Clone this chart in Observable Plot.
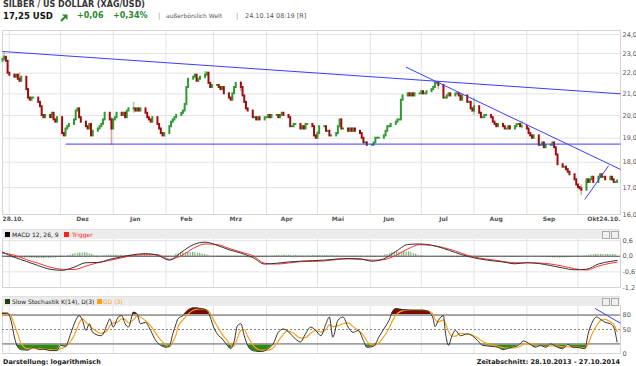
<!DOCTYPE html>
<html><head><meta charset="utf-8">
<script src="https://cdn.jsdelivr.net/npm/d3@7"></script>
<script src="https://cdn.jsdelivr.net/npm/@observablehq/plot@0.6"></script>
<style>
body{margin:0;background:#fff;font-family:"DejaVu Sans",Verdana,sans-serif;}
#wrap{position:relative;width:636px;height:366px;overflow:hidden;background:#fff;}
.abs{position:absolute;white-space:nowrap;line-height:10px;}
.band{position:absolute;left:2px;width:618px;height:9px;background:#ececec;border-top:1px solid #e0e0e0;}
.band span{position:absolute;top:0;font-size:6px;line-height:9px;}
.sq{position:absolute;top:2px;width:5px;height:5px;}
.ic{position:absolute;top:1px;width:6px;height:6px;border:1px solid #aaa;background:#f0f0f0;}
</style></head><body>
<svg width="0" height="0" style="position:absolute"><defs>
<pattern id="hstripes" patternUnits="userSpaceOnUse" width="2.4" height="10"><rect width="1.1" height="10" fill="#6fa86f"/></pattern>
</defs></svg>
<div id="wrap"></div>
<script>
// ---------------- DATA ----------------
// daily closes, 52 weeks x 5 trading days (28.10.2013 - 24.10.2014)
const closes = [
 22.7,22.8,22.6,22.0,21.9,  21.8,21.9,21.7,21.6,21.8,  21.2,20.8,20.7,20.8,20.8,  20.6,20.4,20.0,19.9,20.0,
 19.9,20.1,19.8,19.7,19.9,  19.2,19.1,19.4,19.5,19.6,  19.8,20.2,20.3,19.9,19.7,  19.5,19.4,19.6,19.1,19.3,
 19.4,19.5,19.6,19.8,20.1,  19.8,19.4,19.8,19.9,20.1,  20.0,20.1,19.9,20.2,20.3,  20.3,20.2,20.3,20.2,20.3,
 20.1,19.9,19.8,19.7,19.9,  19.6,19.4,19.2,19.1,19.2,  19.5,19.7,19.8,19.9,20.0,  20.1,20.2,20.5,21.3,21.7,
 21.8,21.9,21.6,21.7,21.8,  21.9,22.0,21.5,21.3,21.4,  21.4,21.3,21.2,21.3,21.0,  20.8,20.7,21.0,21.3,21.5,
 21.3,20.9,20.6,20.3,20.2,  19.9,19.9,19.8,19.9,19.8,  19.9,19.9,20.0,19.9,20.0,  20.0,19.9,20.0,20.1,20.0,
 19.9,19.5,19.5,19.6,19.6,  19.4,19.5,19.4,19.6,19.6,  19.5,19.1,19.0,19.2,19.5,  19.5,19.3,19.3,19.1,19.1,
 19.2,19.5,19.8,19.4,19.4,  19.3,19.4,19.3,19.4,19.3,  19.2,19.0,18.8,18.8,18.7,  18.7,18.8,19.0,19.0,19.0,
 19.1,19.3,19.5,19.5,19.6,  19.7,19.8,19.8,20.7,20.9,  21.0,20.9,21.0,20.9,21.0,  21.0,21.1,21.0,21.0,21.1,
 21.2,21.3,21.5,21.5,21.4,  20.8,20.8,20.9,21.0,20.9,  21.0,21.0,20.9,20.7,20.9,  20.6,20.6,20.3,20.2,20.4,
 20.1,19.9,19.9,20.0,20.0,  19.9,19.7,19.6,19.5,19.6,  19.5,19.4,19.4,19.5,19.4,  19.5,19.6,19.6,19.5,19.5,
 19.4,19.2,19.1,19.0,19.1,  18.7,18.7,18.8,18.6,18.7,  18.7,18.8,18.6,18.3,17.9,  17.8,17.8,17.7,17.6,17.5,
 17.3,17.1,17.0,16.95,16.9, 17.3,17.2,17.3,17.4,17.2,  17.4,17.5,17.4,17.4,17.3,  17.4,17.3,17.2,17.2,17.25
];
const firstOpen = 22.6;
// notable shadows: trading-day index, low, high
const wickIdx  = [1, 8, 46, 55, 85, 100, 133, 184, 199, 219, 244];
const wickLow  = [22.6, 21.6, 18.7, 20.1, 21.7, 21.1, 19.0, 21.2, 20.0, 19.4, 16.7];
const wickHigh = [23.05, 22.0, 19.9, 20.6, 22.1, 21.6, 19.3, 21.6, 20.8, 19.75, 17.1];

const priceTicks = [16,17,18,19,20,21,22,23,24];
const monthLabels = ["Dez","Jan","Feb","Mrz","Apr","Mai","Jun","Jul","Aug","Sep","Okt"];
const monthLabelDates = ["2013-12-14","2014-01-14","2014-02-13","2014-03-14","2014-04-13","2014-05-13","2014-06-12","2014-07-14","2014-08-14","2014-09-14","2014-10-10"];
const startLabel = "28.10.", endLabel = "24.10.";

// trend lines (start date, start price, end date, end price)
const trendStart = ["2013-10-28","2013-12-04","2014-06-22","2014-10-05"];
const trendStartPrice = [23.1, 18.75, 22.3, 16.55];
const trendEnd = ["2014-10-26","2014-10-26","2014-10-26","2014-10-19"];
const trendEndPrice = [21.0, 18.75, 17.71, 17.86];

// MACD, weekly (Mondays from 28.10.2013) + 24.10.2014
const macdValues = [0.16,-0.04,-0.2,-0.36,-0.5,-0.54,-0.42,-0.25,-0.24,-0.12,-0.02,0.06,0.1,0.04,-0.15,0.15,0.44,0.54,0.42,0.25,0.12,-0.05,-0.3,-0.27,-0.22,-0.19,-0.17,-0.15,-0.11,-0.09,-0.1,-0.19,-0.1,0.18,0.45,0.47,0.42,0.3,0.14,0.0,-0.1,-0.17,-0.22,-0.29,-0.25,-0.28,-0.36,-0.45,-0.52,-0.5,-0.3,-0.2,-0.16];
const triggerValues = [0.12,0.04,-0.13,-0.27,-0.42,-0.5,-0.51,-0.38,-0.25,-0.16,-0.06,0.03,0.06,0.06,-0.12,0.02,0.3,0.47,0.45,0.3,0.16,0.02,-0.27,-0.3,-0.26,-0.21,-0.2,-0.18,-0.13,-0.1,-0.12,-0.15,-0.13,0.03,0.28,0.44,0.42,0.33,0.2,0.04,-0.07,-0.13,-0.2,-0.25,-0.25,-0.26,-0.3,-0.38,-0.48,-0.53,-0.38,-0.27,-0.23];
const macdTicks = [0.6, 0, -0.6, -1.2];

// Slow stochastic: calendar-day offsets from 28.10.2013
const stochDays = [0,3,5,7,9,11,15,18,22,24,28,32,34,37,40,43,45,47,49,51,53,58,62,63,65,68,70,72,74,77,79,81,84,87,90,93,96,98,100,102,103,106,109,112,116,120,122,124,127,129,132,134,136,138,140,142,144,147,152,156,159,162,165,167,171,175,178,181,184,187,190,192,194,197,200,203,206,209,212,214,218,221,224,227,229,231,236,241,247,250,253,254,256,259,260,262,264,266,269,273,276,279,282,287,291,294,298,303,306,310,313,316,319,322,326,329,332,335,339,342,344,346,349,351,354,357,359,361];
const stochK = [84,84,69,34,13,8,7,13,8,9,6,6,17,15,41,69,79,69,48,62,44,37,65,72,55,76,79,62,55,86,83,62,65,48,27,17,13,15,41,62,72,79,90,95,94,90,76,55,37,31,17,10,24,58,62,37,17,6,4,10,20,44,51,48,34,24,41,55,48,37,62,76,34,69,76,55,44,48,27,13,15,34,51,69,86,93,91,90,90,88,72,56,69,79,48,17,37,48,37,41,37,27,17,15,13,8,12,17,26,19,13,17,13,20,13,10,19,13,12,10,41,62,76,72,65,62,55,24];
const stochD = [80,83,78,60,40,20,10,10,10,9,8,7,10,14,25,45,63,72,65,58,52,42,50,58,63,66,72,71,64,70,78,76,68,58,42,28,18,14,24,40,55,70,82,90,93,91,84,70,52,40,27,18,16,32,48,50,36,18,7,7,12,26,40,47,42,32,33,42,48,45,50,60,56,58,62,64,56,48,38,26,17,22,35,52,68,80,90,91,90,89,82,72,66,70,64,46,36,36,42,40,38,33,25,18,15,12,11,13,19,21,17,16,15,16,16,14,14,14,13,11,20,38,58,68,71,66,61,45];
const stochTicks = [80, 50, 0];
const stochTrend = {d1:"2014-10-11", v1:94, d2:"2014-10-26", v2:63};

// ---------------- BUILD ----------------
const P = s => new Date(s + "T00:00:00Z");
const start = P("2013-10-28");
const xDomain = [start, P("2014-10-26")];
const tradingDays = [];
for (let t = start.getTime(); tradingDays.length < closes.length; t += 864e5) {
  const d = new Date(t), wd = d.getUTCDay();
  if (wd !== 0 && wd !== 6) tradingDays.push(d);
}
const candles = closes.map((c, i) => ({date: tradingDays[i], open: i ? closes[i-1] : firstOpen, close: c}));
const up = candles.filter(d => d.close >= d.open), down = candles.filter(d => d.close < d.open);
const wicks = wickIdx.map((k, i) => ({date: tradingDays[k], lo: wickLow[i], hi: wickHigh[i], up: candles[k].close >= candles[k].open}));
const trends = trendStart.map((s, i) => ({x1: P(s), y1: trendStartPrice[i], x2: P(trendEnd[i]), y2: trendEndPrice[i]}));
const monthStarts = d3.utcMonths(P("2013-11-01"), P("2014-10-02"));
const macdDates = macdValues.map((v, i) => i < 52 ? d3.utcDay.offset(start, 7*i) : P("2014-10-24"));
const macdRows = macdValues.map((v, i) => ({date: macdDates[i], m: v, t: triggerValues[i]}));
const stochRows = stochDays.map((d, i) => ({date: d3.utcDay.offset(start, d), k: stochK[i], dd: stochD[i]}));

const RED = "#a00a0a", GREEN = "#2f9a2f", BLUE = "#3c3cff", GRID = "#e3e3e3";
const font = "DejaVu Sans";
const fmt1 = d => d.toFixed(1).replace(".", ",");
const wrap = document.getElementById("wrap");
function place(node, top) {
  const d = document.createElement("div");
  d.className = "abs"; d.style.left = "0px"; d.style.top = top + "px";
  d.appendChild(node); wrap.appendChild(d); return d;
}

// Main price chart
const main = Plot.plot({
  width: 636, height: 226, marginTop: 30, marginBottom: 12, marginLeft: 2, marginRight: 16,
  x: {type: "utc", domain: xDomain, axis: null},
  y: {type: "log", domain: [16, 24.22], axis: null},
  style: {fontFamily: font, background: "transparent", overflow: "visible"},
  marks: [
    Plot.gridY(priceTicks, {stroke: GRID, strokeOpacity: 1}),
    Plot.ruleX(monthStarts, {stroke: GRID}),
    Plot.frame({stroke: "#d4d4d4"}),
    Plot.axisY(priceTicks, {anchor: "right", tickSize: 0, tickPadding: 2, tickFormat: fmt1, fontSize: 6.5, fill: "#555", label: null}),
    Plot.text(monthLabels, {x: (d, i) => P(monthLabelDates[i]), text: d => d, frameAnchor: "bottom", dy: 6, fontSize: 6, fontWeight: "bold", fill: "#555"}),
    Plot.text([startLabel], {x: () => start, text: d => d, frameAnchor: "bottom", dy: 6, textAnchor: "start", fontSize: 6, fontWeight: "bold", fill: "#555"}),
    Plot.text([endLabel], {x: () => P("2014-10-26"), text: d => d, frameAnchor: "bottom", dy: 6, textAnchor: "end", fontSize: 6, fontWeight: "bold", fill: "#555"}),
    Plot.ruleX(wicks, {x: "date", y1: "lo", y2: "hi", stroke: d => d.up ? "#9fd09f" : "#e0a0a0", strokeWidth: 1.5}),
    Plot.ruleX(up, {x: "date", y1: "open", y2: "close", stroke: GREEN, strokeWidth: 2, strokeLinecap: "square"}),
    Plot.ruleX(down, {x: "date", y1: "open", y2: "close", stroke: RED, strokeWidth: 2, strokeLinecap: "square"}),
    Plot.link(trends, {x1: "x1", y1: "y1", x2: "x2", y2: "y2", stroke: BLUE, strokeWidth: 1})
  ]
});
place(main, 0);

// MACD
const macd = Plot.plot({
  width: 636, height: 67, marginTop: 13, marginBottom: 5, marginLeft: 2, marginRight: 16,
  x: {type: "utc", domain: xDomain, axis: null},
  y: {domain: [-1.2, 0.68], axis: null},
  style: {fontFamily: font, background: "transparent", overflow: "visible"},
  marks: [
    Plot.gridY([0.6, -0.6], {stroke: GRID, strokeOpacity: 1}),
    Plot.ruleX(monthStarts, {stroke: GRID}),
    Plot.frame({stroke: "#d4d4d4"}),
    Plot.areaY(macdRows, {x: "date", y: d => d.m - d.t, curve: "monotone-x", fill: "url(#hstripes)"}),
    Plot.ruleY([0], {stroke: "#444"}),
    Plot.line(macdRows, {x: "date", y: "t", curve: "monotone-x", stroke: "#ff3030", strokeWidth: 1}),
    Plot.line(macdRows, {x: "date", y: "m", curve: "monotone-x", stroke: "#333", strokeWidth: 1}),
    Plot.axisY(macdTicks, {anchor: "right", tickSize: 0, tickPadding: 2, tickFormat: fmt1, fontSize: 6.5, fill: "#555", label: null})
  ]
});
place(macd, 225);

// Slow stochastic
const stoch = Plot.plot({
  width: 636, height: 62, marginTop: 9, marginBottom: 5, marginLeft: 2, marginRight: 16,
  x: {type: "utc", domain: xDomain, axis: null},
  y: {domain: [0, 100], axis: null},
  style: {fontFamily: font, background: "transparent", overflow: "visible"},
  marks: [
    Plot.ruleX(monthStarts, {stroke: GRID}),
    Plot.frame({stroke: "#d4d4d4"}),
    Plot.areaY(stochRows, {x: "date", y1: 80, y2: "k", curve: "monotone-x", fill: "#7a0a00"}),
    Plot.areaY(stochRows, {x: "date", y1: 20, y2: "k", curve: "monotone-x", fill: "#2f8a14"}),
    Plot.ruleY([80, 20], {stroke: "#a0a0a0", strokeWidth: 1.6}),
    Plot.ruleY([50], {stroke: "#888", strokeDasharray: "2,2"}),
    Plot.line(stochRows, {x: "date", y: "dd", curve: "monotone-x", stroke: "#f7a21b", strokeWidth: 1.2}),
    Plot.line(stochRows, {x: "date", y: "k", curve: "monotone-x", stroke: "#333", strokeWidth: 1}),
    Plot.link([stochTrend], {x1: d => P(d.d1), y1: "v1", x2: d => P(d.d2), y2: "v2", stroke: BLUE}),
    Plot.axisY(stochTicks, {anchor: "right", tickSize: 0, tickPadding: 2, fontSize: 6.5, fill: "#555", label: null})
  ]
});
place(stoch, 296);
// clip the fills to beyond 80 / below 20
(function () {
  const ys = stoch.scale("y");
  const y80 = ys.apply(80), y20 = ys.apply(20);
  const svg = d3.select(stoch);
  const defs = svg.append("defs");
  defs.append("clipPath").attr("id", "clipOver").append("rect").attr("x", 0).attr("y", 0).attr("width", 636).attr("height", y80);
  defs.append("clipPath").attr("id", "clipUnder").append("rect").attr("x", 0).attr("y", y20).attr("width", 636).attr("height", 62 - y20);
  const areas = svg.selectAll('g[aria-label="area"]').nodes();
  if (areas[0]) areas[0].setAttribute("clip-path", "url(#clipOver)");
  if (areas[1]) areas[1].setAttribute("clip-path", "url(#clipUnder)");
})();

// ---------------- TEXT / HEADERS ----------------
function txt(s, left, top, css) {
  const d = document.createElement("div");
  d.className = "abs"; d.style.left = left + "px"; d.style.top = top + "px";
  d.style.cssText += css; d.textContent = s; wrap.appendChild(d); return d;
}
txt("SILBER / US DOLLAR (XAG/USD)", 3, 0, "font-size:8px;font-weight:bold;color:#333;");
txt("17,25 USD", 3, 11, "font-size:8.5px;font-weight:bold;color:#111;");
const arr = document.createElement("div");
arr.className = "abs"; arr.style.left = "60px"; arr.style.top = "12px";
arr.innerHTML = '<svg width="8" height="8"><line x1="1" y1="7" x2="6" y2="2" stroke="#2a8a2a" stroke-width="2"/><polygon points="2,0.5 7.5,0.5 7.5,6" fill="#2a8a2a"/></svg>';
wrap.appendChild(arr);
txt("+0,06", 77, 11, "font-size:8px;font-weight:bold;color:#2a8a2a;");
txt("+0,34%", 113, 11, "font-size:8px;font-weight:bold;color:#2a8a2a;");
txt("|", 158, 11, "font-size:7px;color:#999;");
txt("außerbörslich Welt", 166, 11, "font-size:6px;color:#555;");
txt("|", 236, 11, "font-size:7px;color:#999;");
txt("24.10.14 08:19 [R]", 245, 11, "font-size:6.5px;color:#555;");

function band(top, items) {
  const b = document.createElement("div");
  b.className = "band"; b.style.top = top + "px";
  b.innerHTML = items + '<div class="ic" style="left:600px"></div><div class="ic" style="left:609px"></div>';
  wrap.appendChild(b);
}
band(229, '<div class="sq" style="left:3px;background:#000"></div><span style="left:10px;color:#222">MACD 12, 26, 9</span>' +
  '<div class="sq" style="left:62px;background:#ff2020"></div><span style="left:70px;color:#ff2020">Trigger</span>');
band(296, '<div class="sq" style="left:3px;background:#1d4010"></div><span style="left:10px;color:#222">Slow Stochastik K(14), D(3)</span>' +
  '<div class="sq" style="left:95px;background:#f7a21b"></div><span style="left:101px;color:#f7a21b">GD (3)</span>');

txt("Darstellung: logarithmisch", 3, 357, "font-size:6.5px;font-weight:bold;color:#222;");
const z = txt("Zeitabschnitt: 28.10.2013 - 27.10.2014", 0, 357, "font-size:6.5px;font-weight:bold;color:#222;");
z.style.left = ""; z.style.right = "16px";
</script></body></html>
